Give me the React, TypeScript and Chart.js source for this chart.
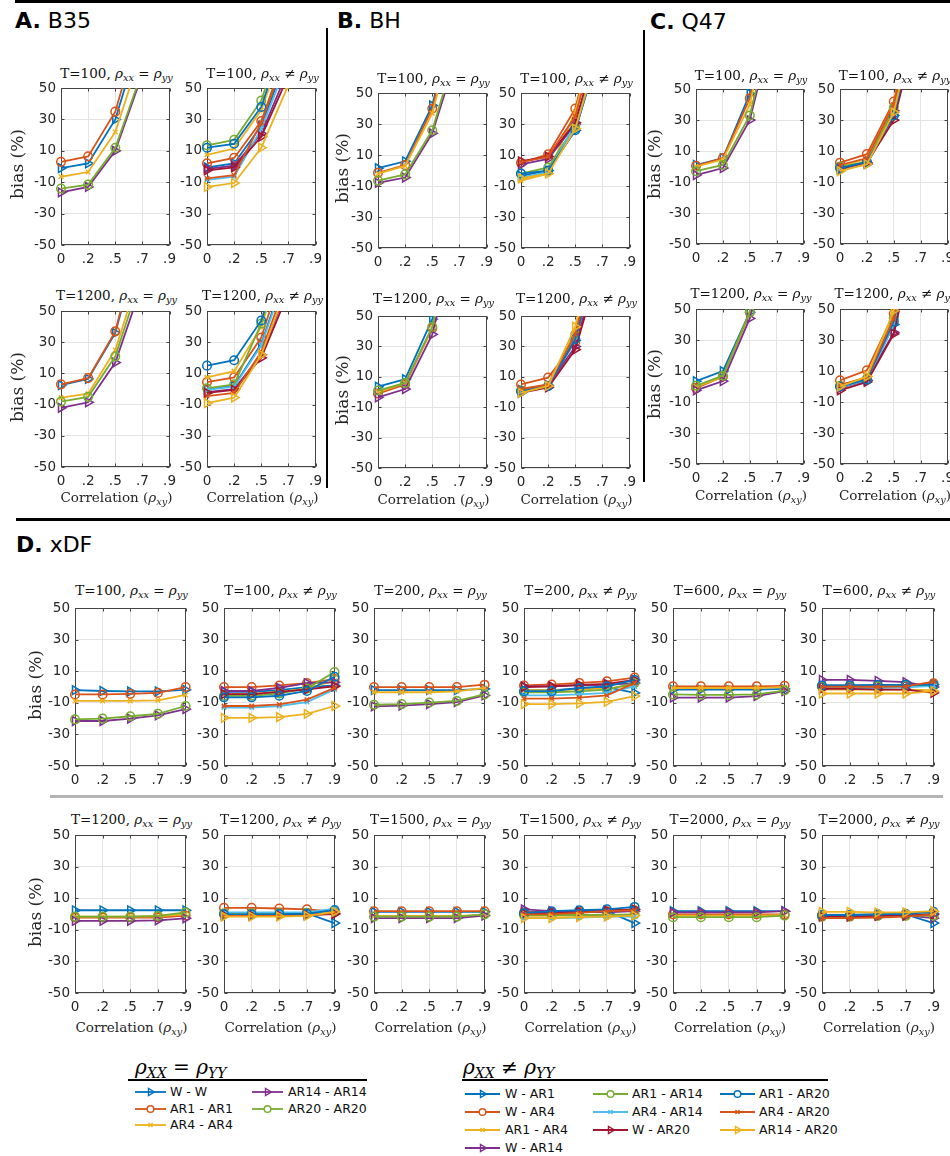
import React, { useEffect, useRef } from 'react';
import { Chart, registerables } from 'chart.js';
Chart.register(...registerables);

// ---------- categories / ticks ----------
const CORRELATIONS = ['0', '.2', '.5', '.7', '.9'];
const BIAS_TICKS = [-50, -30, -10, 10, 30, 50];

const EQ_NAMES = ['W - W', 'AR1 - AR1', 'AR4 - AR4', 'AR14 - AR14', 'AR20 - AR20'];
const NEQ_NAMES = ['W - AR1', 'W - AR4', 'AR1 - AR4', 'W - AR14', 'AR1 - AR14', 'AR4 - AR14', 'W - AR20', 'AR1 - AR20', 'AR4 - AR20', 'AR14 - AR20'];

// ---------- data (bias %, one row per series, one value per correlation) ----------
// A. B35
const B35_T100_EQ = [
  [-1, 2, 30, 87, 140],
  [3, 6.5, 35, 95, 150],
  [-6.5, -3.5, 22, 75, 125],
  [-16.5, -13, 10, 59, 105],
  [-14, -11.5, 12, 61, 110],
];
const B35_T100_NEQ = [
  [-0.5, 2, 26, 72, 120],
  [2, 5.5, 29, 78, 130],
  [7.5, 11.5, 36, 85, 135],
  [-1.5, 0.5, 21, 62, 110],
  [13.5, 17, 42, 95, 150],
  [-8.5, -6.5, 24, 68, 115],
  [-2.5, -0.5, 19, 58, 100],
  [12, 14.5, 38, 90, 145],
  [-7.5, -5.5, 28, 75, 125],
  [-13, -10.5, 12, 52, 95],
];
const B35_T1200_EQ = [
  [2.5, 6.5, 36, 100, 160],
  [3, 7, 37, 105, 165],
  [-5.5, -3, 25, 80, 130],
  [-12, -8.5, 17, 68, 115],
  [-8, -5, 21, 74, 120],
];
const B35_T1200_NEQ = [
  [0, 2, 29, 80, 130],
  [4.5, 7.5, 33, 88, 140],
  [7.5, 11.5, 40, 95, 150],
  [-2, 0, 22, 66, 110],
  [0.5, 3, 42, 98, 150],
  [-0.5, 1.5, 28, 78, 125],
  [-2.5, -0.5, 20, 62, 105],
  [15, 18.5, 44, 100, 155],
  [-4.5, -2.5, 24, 72, 120],
  [-9, -5.5, 22, 68, 115],
];
// B. BH
const BH_T100_EQ = [
  [1.5, 6, 42, 115, 180],
  [-1.5, 3.5, 40, 110, 175],
  [-2, 3, 37, 105, 170],
  [-8, -4.5, 24, 80, 140],
  [-6.5, -2.5, 26, 85, 145],
];
const BH_T100_NEQ = [
  [-3.5, 0, 26, 85, 145],
  [5, 10.5, 40, 110, 175],
  [-6.5, -2, 38, 105, 170],
  [4, 7.5, 30, 90, 150],
  [-2, 2, 29, 88, 150],
  [-4.5, -1, 30, 90, 150],
  [6, 9, 31, 92, 150],
  [-2, 0, 26, 84, 145],
  [5.5, 9, 35, 100, 165],
  [-5, -2, 27, 86, 145],
];
const BH_T1200_EQ = [
  [3.5, 8.5, 48, 130, 200],
  [-1, 5, 42, 120, 190],
  [0, 6, 42, 120, 190],
  [-3.5, 2, 38, 110, 180],
  [1, 6, 43, 122, 190],
];
const BH_T1200_NEQ = [
  [0, 4, 34, 105, 170],
  [5, 9.5, 33, 105, 170],
  [1, 5, 40, 115, 180],
  [1.5, 4.5, 30, 95, 160],
  [1, 4, 38, 110, 175],
  [0, 3.5, 36, 108, 175],
  [-0.5, 3, 28, 90, 155],
  [0.5, 4, 35, 105, 170],
  [2, 5, 38, 110, 175],
  [-0.5, 4, 43, 120, 185],
];
// C. Q47
const Q47_T100_EQ = [
  [1, 5.5, 47, 130, 200],
  [0.5, 5.5, 44, 125, 195],
  [0, 4.5, 40, 118, 185],
  [-5.5, -1, 30, 100, 165],
  [-3, 1, 33, 105, 170],
];
const Q47_T100_NEQ = [
  [-2, 1.5, 33, 105, 170],
  [2.5, 8, 42, 120, 190],
  [0, 5, 40, 118, 185],
  [-1, 2, 36, 110, 175],
  [0, 3, 38, 112, 180],
  [-2.5, 2, 34, 106, 170],
  [-1.5, 2.5, 30, 98, 165],
  [-1, 3, 33, 104, 170],
  [1, 5.5, 40, 118, 185],
  [-3, 1.5, 35, 108, 175],
];
const Q47_T1200_EQ = [
  [3.5, 10, 48, 140, 210],
  [-1, 6.5, 48, 138, 205],
  [0, 6, 47, 135, 205],
  [-2.5, 3.5, 44, 128, 200],
  [0.5, 7, 48, 138, 205],
];
const Q47_T1200_NEQ = [
  [-0.5, 4, 40, 125, 195],
  [4, 10.5, 47, 135, 205],
  [1, 6, 46, 132, 200],
  [-1, 4, 35, 115, 185],
  [0.5, 5, 44, 130, 200],
  [-0.5, 4, 40, 125, 195],
  [-2.5, 3, 34, 112, 180],
  [0, 4.5, 42, 128, 198],
  [1, 6, 44, 130, 200],
  [0, 6.5, 49, 140, 210],
];
// D. xDF
const XDF_T100_EQ = [
  [-2, -2.5, -2.8, -2.8, -1.8],
  [-4.7, -4.7, -4.3, -3.7, 0],
  [-8.8, -8.8, -8.8, -8.4, -5],
  [-21.5, -21.5, -20, -18, -14],
  [-20.5, -20, -18.5, -17, -12],
];
const XDF_T100_NEQ = [
  [-3, -3, -2, 0, 1],
  [0, 0, 1, 2.5, 5],
  [-4.5, -4.5, -3, -1, 4],
  [-2.5, -2.5, -0.5, 2.5, 3],
  [-5.5, -5.5, -4, -1, 9.5],
  [-13, -13, -12, -9.5, -1.5],
  [-4.5, -4.5, -3, -1.5, 0.5],
  [-6.5, -6.5, -5.5, -2.5, 6.5],
  [-12, -12, -11, -8, -0.5],
  [-19.5, -19.5, -19, -17, -12],
];
const XDF_T200_EQ = [
  [-2, -2, -2, -2, -1.2],
  [0, 0, 0, 0, 1.5],
  [-3.3, -3.3, -3.3, -2.7, -0.6],
  [-12.2, -11.8, -10.8, -9.5, -5.3],
  [-11.2, -10.8, -9.8, -8.8, -4.7],
];
const XDF_T200_NEQ = [
  [-2, -2, -1, 0, -3.7],
  [1, 1.6, 2.6, 3.6, 6],
  [-2, -2, -1.5, -1, 1.4],
  [0.4, 0.4, 1, 1.4, 2.5],
  [-3.3, -3.3, -2.7, -1.6, 2.5],
  [-5.3, -5.3, -4.7, -3.7, 0.4],
  [0, 0.4, 1.4, 2, 4.5],
  [-2.6, -2.6, -0.6, 0.4, 4.5],
  [-7.3, -7.3, -6.7, -5.3, 2.5],
  [-10.8, -10.8, -10.4, -9.4, -5.7],
];
const XDF_T600_EQ = [
  [-1.6, -1.6, -1.6, -1.6, -1.2],
  [0.4, 0.4, 0.4, 0.4, 0.8],
  [-0.6, -0.6, -0.6, -0.6, 0],
  [-6.7, -6.7, -6.7, -5.7, -2.6],
  [-4.7, -5, -5, -4.7, -2.2],
];
const XDF_T600_NEQ = [
  [1, 1, 1, 1, 1.5],
  [0.4, 0.4, 0.4, 0.4, 2.4],
  [-1.6, -1.6, -1.6, -1.6, -2],
  [4.5, 4.5, 3.9, 3.1, 0],
  [0.4, 0.4, 0.4, 0.8, 0.8],
  [-0.6, -0.6, -0.6, -0.2, 0.8],
  [-1.2, -1.2, -1.6, -1.6, -3.7],
  [1, 1, 1.4, 1.4, 1.4],
  [0.2, 0.2, 0.2, 0.4, 3.5],
  [-4.1, -4.1, -4.1, -4.1, -2.6],
];
const XDF_T1200_EQ = [
  [2.4, 2.4, 2.4, 2.4, 2.4],
  [-2.2, -2.2, -2.2, -2.2, -1],
  [-1.6, -1.6, -1.6, -1.4, 0],
  [-4.3, -4.3, -4.3, -4, -2.7],
  [-1.6, -1.6, -1.6, -1.2, 1],
];
const XDF_T1200_NEQ = [
  [-0.2, -0.2, -0.2, 0.4, -5.7],
  [3.9, 3.9, 3.5, 3, 1.5],
  [-1, -1, -1, -0.8, 0.5],
  [-0.5, -0.5, -0.5, -0.2, 0.5],
  [0.5, 0.5, 0.5, 0.8, 2],
  [1, 1, 1, 1, 3.5],
  [-0.8, -0.8, -0.8, -0.6, 0],
  [-0.2, -0.2, 0, 0.2, 2.5],
  [-1.2, -1.2, -1.2, -1, 0.8],
  [-1.6, -1.6, -1.6, -1.2, 1.4],
];
const XDF_T1500_EQ = [
  [1.4, 1.4, 1.4, 1.4, 1.4],
  [1.8, 1.8, 1.8, 1.8, 1.8],
  [-1.2, -1.2, -1.2, -1.2, -0.6],
  [-2.6, -2.6, -2.6, -2.6, -1],
  [-1.6, -1.6, -1.6, -1.6, -0.2],
];
const XDF_T1500_NEQ = [
  [1.4, 1.4, 1.8, 1.8, -5.7],
  [1, 1, 1.4, 1.8, 2.4],
  [-1.2, -1.2, -1, -1, -1],
  [3, 1.8, 1.4, 1, 1.8],
  [-0.6, -0.6, -0.6, -0.6, -0.2],
  [-2.6, -2.6, -2.2, -1.6, -1.6],
  [0.4, 0.8, 1.4, 2.4, 3],
  [0.4, 1.8, 2.4, 3, 4.5],
  [-0.2, 0, 0.8, 1.8, 2.4],
  [-2.6, -2.6, -2, -1.6, -1],
];
const XDF_T2000_EQ = [
  [1.8, 1.8, 1.8, 1.8, 1.8],
  [-0.2, -0.2, -0.2, -0.2, -0.2],
  [-1, -1, -1, -1, -0.6],
  [1, 1, 1, 1, 1.8],
  [-2, -2, -2, -2, -1],
];
const XDF_T2000_NEQ = [
  [-0.6, -0.6, -0.2, -0.2, -5.7],
  [-1, -1, -0.8, -0.4, -0.8],
  [-0.4, -0.4, -0.4, -0.4, 0],
  [-1, -1, -0.8, -0.8, -2.6],
  [-1.6, -1.6, -1.2, -1.2, -1],
  [-1.6, -1.2, -1, -0.6, 0],
  [-1.6, -1.6, -1.2, -1, 0],
  [-0.6, -0.6, -0.2, 0.2, 1.4],
  [-2.6, -2.6, -2.2, -1.6, -0.2],
  [1.4, 1.4, 1, 1, 1.8],
];

// ---------- styles ----------
const BLUE = '#0072BD', RED = '#D95319', YEL = '#EDB120', PUR = '#7E2F8E', GRN = '#77AC30', CYA = '#4DBEEE', DRED = '#A2142F';
type Mk = 'tri' | 'circ' | 'x';
const EQ_STYLES: { color: string; marker: Mk }[] = [
  { color: BLUE, marker: 'tri' }, { color: RED, marker: 'circ' }, { color: YEL, marker: 'x' },
  { color: PUR, marker: 'tri' }, { color: GRN, marker: 'circ' },
];
const NEQ_STYLES: { color: string; marker: Mk }[] = [
  { color: BLUE, marker: 'tri' }, { color: RED, marker: 'circ' }, { color: YEL, marker: 'x' },
  { color: PUR, marker: 'tri' }, { color: GRN, marker: 'circ' }, { color: CYA, marker: 'x' },
  { color: DRED, marker: 'tri' }, { color: BLUE, marker: 'circ' }, { color: RED, marker: 'x' },
  { color: YEL, marker: 'tri' },
];

const SANS = "'DejaVu Sans', 'Liberation Sans', sans-serif";
const SERIF = "'DejaVu Serif', 'Liberation Serif', serif";
const INK = '#262626';

const ML = 34, MR = 10, MT = 8, MB = 24;

type Spec = {
  data: number[][]; eq: boolean; T: number;
  left: number; top: number; width: number; height: number;
  titleY: number; biasX?: number; corrY?: number;
};

// ---------- layout ----------
const PANELS: Spec[] = [
  // A
  { data: B35_T100_EQ, eq: true, T: 100, left: 61, top: 83, width: 111, height: 162, titleY: 73, biasX: 17 },
  { data: B35_T100_NEQ, eq: false, T: 100, left: 207, top: 83, width: 111, height: 162, titleY: 73 },
  { data: B35_T1200_EQ, eq: true, T: 1200, left: 61, top: 306, width: 111, height: 161, titleY: 295, biasX: 17, corrY: 497 },
  { data: B35_T1200_NEQ, eq: false, T: 1200, left: 207, top: 306, width: 111, height: 161, titleY: 295, corrY: 497 },
  // B
  { data: BH_T100_EQ, eq: true, T: 100, left: 378, top: 88, width: 111, height: 160, titleY: 78, biasX: 342 },
  { data: BH_T100_NEQ, eq: false, T: 100, left: 521, top: 88, width: 111, height: 160, titleY: 78 },
  { data: BH_T1200_EQ, eq: true, T: 1200, left: 378, top: 311, width: 111, height: 157, titleY: 298, biasX: 342, corrY: 499 },
  { data: BH_T1200_NEQ, eq: false, T: 1200, left: 521, top: 311, width: 111, height: 157, titleY: 298, corrY: 499 },
  // C
  { data: Q47_T100_EQ, eq: true, T: 100, left: 696, top: 84, width: 110, height: 160, titleY: 75, biasX: 654 },
  { data: Q47_T100_NEQ, eq: false, T: 100, left: 840, top: 84, width: 110, height: 160, titleY: 75 },
  { data: Q47_T1200_EQ, eq: true, T: 1200, left: 696, top: 304, width: 110, height: 160, titleY: 293, biasX: 654, corrY: 495 },
  { data: Q47_T1200_NEQ, eq: false, T: 1200, left: 840, top: 304, width: 110, height: 160, titleY: 293, corrY: 495 },
  // D row 1
  { data: XDF_T100_EQ, eq: true, T: 100, left: 75, top: 603, width: 113, height: 163, titleY: 590, biasX: 35 },
  { data: XDF_T100_NEQ, eq: false, T: 100, left: 224, top: 603, width: 113, height: 163, titleY: 590 },
  { data: XDF_T200_EQ, eq: true, T: 200, left: 374, top: 603, width: 113, height: 163, titleY: 590 },
  { data: XDF_T200_NEQ, eq: false, T: 200, left: 524, top: 603, width: 113, height: 163, titleY: 590 },
  { data: XDF_T600_EQ, eq: true, T: 600, left: 673, top: 603, width: 114, height: 163, titleY: 590 },
  { data: XDF_T600_NEQ, eq: false, T: 600, left: 822, top: 603, width: 114, height: 163, titleY: 590 },
  // D row 2
  { data: XDF_T1200_EQ, eq: true, T: 1200, left: 75, top: 830, width: 113, height: 163, titleY: 819, biasX: 35, corrY: 1027 },
  { data: XDF_T1200_NEQ, eq: false, T: 1200, left: 224, top: 830, width: 113, height: 163, titleY: 819, corrY: 1027 },
  { data: XDF_T1500_EQ, eq: true, T: 1500, left: 374, top: 830, width: 113, height: 163, titleY: 819, corrY: 1027 },
  { data: XDF_T1500_NEQ, eq: false, T: 1500, left: 524, top: 830, width: 113, height: 163, titleY: 819, corrY: 1027 },
  { data: XDF_T2000_EQ, eq: true, T: 2000, left: 673, top: 830, width: 114, height: 163, titleY: 819, corrY: 1027 },
  { data: XDF_T2000_NEQ, eq: false, T: 2000, left: 822, top: 830, width: 114, height: 163, titleY: 819, corrY: 1027 },
];

function markerOpts(m: Mk) {
  if (m === 'tri') return { pointStyle: 'triangle', pointRadius: 5, pointRotation: 90 };
  if (m === 'circ') return { pointStyle: 'circle', pointRadius: 4.3, pointRotation: 0 };
  return { pointStyle: 'crossRot', pointRadius: 3.2, pointRotation: 0 };
}

const boxPlugin = {
  id: 'matlabBox',
  beforeDatasetsDraw(chart: any) {
    const { ctx, chartArea, scales } = chart;
    const L = Math.round(chartArea.left) + 0.5;
    const R = Math.round(chartArea.right) - 0.5;
    const T = Math.round(chartArea.top) + 0.5;
    const B = Math.round(chartArea.bottom) - 0.5;
    ctx.save();
    ctx.strokeStyle = '#454545';
    ctx.lineWidth = 1;
    ctx.strokeRect(L, T, R - L, B - T);
    ctx.beginPath();
    scales.x.ticks.forEach((_: any, i: number) => {
      const px = Math.round(scales.x.getPixelForTick(i)) + 0.5;
      ctx.moveTo(px, B); ctx.lineTo(px, B - 3);
      ctx.moveTo(px, T); ctx.lineTo(px, T + 3);
    });
    scales.y.ticks.forEach((t: any) => {
      const py = Math.round(scales.y.getPixelForValue(t.value)) + 0.5;
      ctx.moveTo(L, py); ctx.lineTo(L + 3, py);
      ctx.moveTo(R, py); ctx.lineTo(R - 3, py);
    });
    ctx.stroke();
    ctx.restore();
  },
};

const Rho = ({ sub, size = '0.72em' }: { sub: string; size?: string }) => (
  <span style={{ fontStyle: 'italic' }}>
    ρ<span style={{ fontSize: size, position: 'relative', top: '0.32em' }}>{sub}</span>
  </span>
);

function Subplot({ spec }: { spec: Spec }) {
  const ref = useRef<HTMLCanvasElement>(null);
  const cw = ML + spec.width + MR;
  const ch = MT + spec.height + MB;
  useEffect(() => {
    const names = spec.eq ? EQ_NAMES : NEQ_NAMES;
    const styles = spec.eq ? EQ_STYLES : NEQ_STYLES;
    const n = spec.data.length;
    const chart = new Chart(ref.current as HTMLCanvasElement, {
      type: 'line',
      data: {
        labels: CORRELATIONS,
        datasets: spec.data.map((vals, i) => ({
          label: names[i],
          data: vals,
          borderColor: styles[i].color,
          backgroundColor: 'rgba(0,0,0,0)',
          borderWidth: 1.8,
          pointBorderColor: styles[i].color,
          pointBackgroundColor: 'rgba(0,0,0,0)',
          pointBorderWidth: 1.5,
          pointHoverRadius: 0,
          ...markerOpts(styles[i].marker),
          tension: 0,
          fill: false,
          order: n - i,
          clip: { left: 8, right: 10, top: 0, bottom: 8 },
        })) as any,
      },
      options: {
        animation: false,
        responsive: false,
        devicePixelRatio: 1,
        events: [],
        layout: { padding: { left: 0, top: MT, right: MR, bottom: 0 } },
        plugins: { legend: { display: false }, tooltip: { enabled: false }, title: { display: false } },
        scales: {
          x: {
            type: 'category',
            offset: false,
            grid: { color: '#e4e4e4', drawTicks: false, lineWidth: 1 },
            border: { display: false },
            ticks: { color: INK, font: { family: SANS, size: 13.5 }, padding: 6, maxRotation: 0, autoSkip: false },
            afterFit: (s: any) => { s.height = MB; },
          },
          y: {
            type: 'linear',
            min: -50,
            max: 50,
            grid: { color: '#e4e4e4', drawTicks: false, lineWidth: 1 },
            border: { display: false },
            ticks: { stepSize: 20, color: INK, font: { family: SANS, size: 13.5 }, padding: 5 },
            afterBuildTicks: (s: any) => { s.ticks = BIAS_TICKS.map((v) => ({ value: v })); },
            afterFit: (s: any) => { s.width = ML; },
          },
        },
      } as any,
      plugins: [boxPlugin],
    });
    return () => chart.destroy();
  }, [spec]);

  return (
    <>
      <div
        style={{
          position: 'absolute', left: spec.left - 40, width: spec.width + 80, top: spec.titleY - 10,
          height: 20, lineHeight: '20px', textAlign: 'center', fontFamily: SERIF, fontSize: 13.5,
          color: '#111', whiteSpace: 'nowrap',
        }}
      >
        T={spec.T}, <Rho sub="xx" /> {spec.eq ? '=' : '≠'} <Rho sub="yy" />
      </div>
      <canvas
        ref={ref}
        width={cw}
        height={ch}
        style={{ position: 'absolute', left: spec.left - ML, top: spec.top - MT, width: cw, height: ch }}
      />
      {spec.biasX !== undefined && (
        <div
          style={{
            position: 'absolute', left: spec.biasX - 60, top: spec.top + spec.height / 2 - 12, width: 120,
            height: 24, lineHeight: '24px', textAlign: 'center', fontFamily: SERIF, fontSize: 17, color: INK,
            transform: 'rotate(-90deg)', whiteSpace: 'nowrap',
          }}
        >
          bias (%)
        </div>
      )}
      {spec.corrY !== undefined && (
        <div
          style={{
            position: 'absolute', left: spec.left - 40, width: spec.width + 80, top: spec.corrY - 10,
            height: 20, lineHeight: '20px', textAlign: 'center', fontFamily: SERIF, fontSize: 13.5,
            color: INK, whiteSpace: 'nowrap',
          }}
        >
          Correlation (<Rho sub="xy" />)
        </div>
      )}
    </>
  );
}

function Swatch({ color, marker, x, y, w }: { color: string; marker: Mk; x: number; y: number; w: number }) {
  const cx = w / 2;
  return (
    <svg width={w} height={12} style={{ position: 'absolute', left: x, top: y - 6 }}>
      <line x1={0} y1={6} x2={w} y2={6} stroke={color} strokeWidth={1.8} />
      {marker === 'tri' && (
        <polygon points={`${cx + 4},6 ${cx - 2},2.5 ${cx - 2},9.5`} fill="none" stroke={color} strokeWidth={1.4} />
      )}
      {marker === 'circ' && <circle cx={cx} cy={6} r={3.3} fill="white" stroke={color} strokeWidth={1.4} />}
      {marker === 'x' && (
        <path d={`M${cx - 2},4 L${cx + 2},8 M${cx - 2},8 L${cx + 2},4`} stroke={color} strokeWidth={1.4} />
      )}
    </svg>
  );
}

function LegendText({ x, y, text }: { x: number; y: number; text: string }) {
  return (
    <div style={{ position: 'absolute', left: x, top: y - 8, height: 16, lineHeight: '16px', fontFamily: SANS, fontSize: 12.5, color: '#111', whiteSpace: 'nowrap' }}>
      {text}
    </div>
  );
}

const EQ_LEGEND_POS = [
  { sx: 135, tx: 170, y: 1092 }, { sx: 135, tx: 170, y: 1108.5 }, { sx: 135, tx: 170, y: 1125 },
  { sx: 252, tx: 288, y: 1092 }, { sx: 252, tx: 288, y: 1108.5 },
];
const NEQ_LEGEND_POS = [
  { sx: 465, tx: 505, y: 1094 }, { sx: 465, tx: 505, y: 1112 }, { sx: 465, tx: 505, y: 1130 }, { sx: 465, tx: 505, y: 1148 },
  { sx: 593, tx: 632, y: 1094 }, { sx: 593, tx: 632, y: 1112 }, { sx: 593, tx: 632, y: 1130 },
  { sx: 720, tx: 759, y: 1094 }, { sx: 720, tx: 759, y: 1112 }, { sx: 720, tx: 759, y: 1130 },
];

function SectionLabel({ x, y, letter, name }: { x: number; y: number; letter: string; name: string }) {
  return (
    <div style={{ position: 'absolute', left: x, top: y, height: 26, lineHeight: '26px', fontFamily: SANS, fontSize: 22, color: '#000', whiteSpace: 'nowrap' }}>
      <span style={{ fontWeight: 'bold' }}>{letter}</span> {name}
    </div>
  );
}

const Rule = ({ l, t, w, h, c = '#000' }: { l: number; t: number; w: number; h: number; c?: string }) => (
  <div style={{ position: 'absolute', left: l, top: t, width: w, height: h, background: c }} />
);

export default function App() {
  return (
    <div style={{ position: 'absolute', left: 0, top: 0, width: 950, height: 1156, overflow: 'hidden', background: '#fff' }}>
      <Rule l={15} t={0} w={935} h={3} />
      <Rule l={325.5} t={28} w={2.5} h={460} />
      <Rule l={642.5} t={30} w={2.5} h={452} />
      <Rule l={16} t={518} w={934} h={2.5} />
      <Rule l={50} t={795} w={893} h={2.5} c="#b4b4b4" />

      <SectionLabel x={15} y={8} letter="A." name="B35" />
      <SectionLabel x={337} y={8} letter="B." name="BH" />
      <SectionLabel x={650} y={9} letter="C." name="Q47" />
      <SectionLabel x={16} y={532} letter="D." name="xDF" />

      {PANELS.map((p, i) => (
        <Subplot key={i} spec={p} />
      ))}

      {/* legends */}
      <div style={{ position: 'absolute', left: 135, top: 1054, height: 26, lineHeight: '26px', fontFamily: SERIF, fontSize: 20, color: '#000', whiteSpace: 'nowrap' }}>
        <Rho sub="XX" size="0.7em" /> = <Rho sub="YY" size="0.7em" />
      </div>
      <Rule l={128} t={1078.5} w={239} h={2.3} />
      {EQ_NAMES.map((nm, i) => (
        <React.Fragment key={nm}>
          <Swatch color={EQ_STYLES[i].color} marker={EQ_STYLES[i].marker} x={EQ_LEGEND_POS[i].sx} y={EQ_LEGEND_POS[i].y} w={31} />
          <LegendText x={EQ_LEGEND_POS[i].tx} y={EQ_LEGEND_POS[i].y} text={nm} />
        </React.Fragment>
      ))}

      <div style={{ position: 'absolute', left: 463, top: 1054, height: 26, lineHeight: '26px', fontFamily: SERIF, fontSize: 20, color: '#000', whiteSpace: 'nowrap' }}>
        <Rho sub="XX" size="0.7em" /> ≠ <Rho sub="YY" size="0.7em" />
      </div>
      <Rule l={462} t={1078.5} w={366} h={2.3} />
      {NEQ_NAMES.map((nm, i) => (
        <React.Fragment key={nm}>
          <Swatch color={NEQ_STYLES[i].color} marker={NEQ_STYLES[i].marker} x={NEQ_LEGEND_POS[i].sx} y={NEQ_LEGEND_POS[i].y} w={35} />
          <LegendText x={NEQ_LEGEND_POS[i].tx} y={NEQ_LEGEND_POS[i].y} text={nm} />
        </React.Fragment>
      ))}
    </div>
  );
}
